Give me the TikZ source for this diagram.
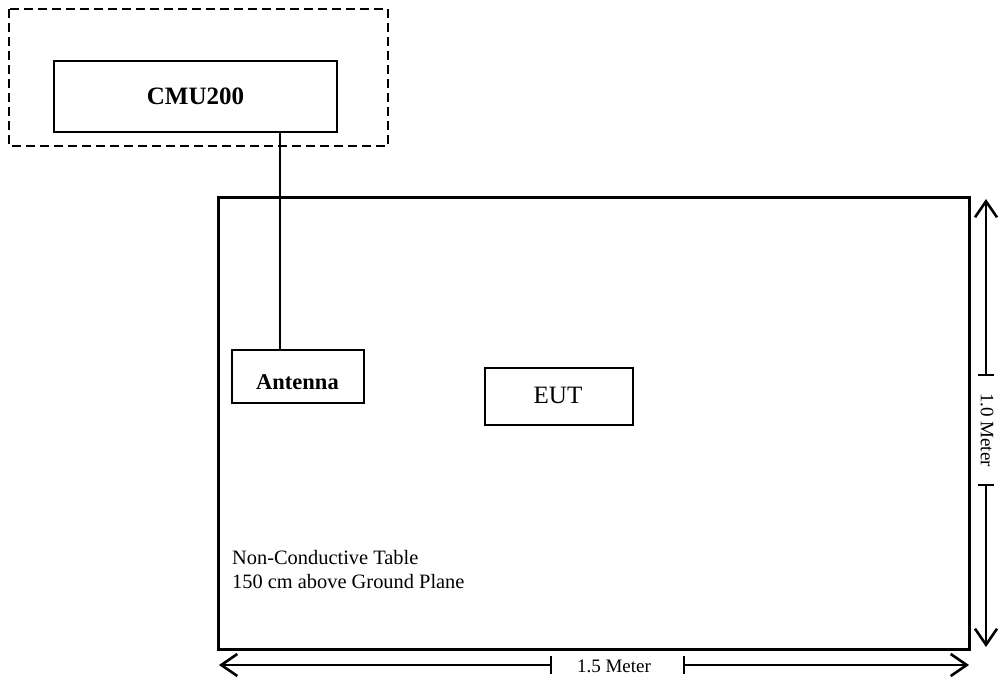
\documentclass[tikz,border=0pt]{standalone}
\usepackage{fontspec}
\setmainfont{Liberation Serif}
\usetikzlibrary{arrows.meta}
\begin{document}
\begin{tikzpicture}[x=1pt,y=-1pt,
  box/.style={draw,line width=1.5pt,inner sep=0pt},
  lbl/.style={anchor=base,inner sep=0pt},
  barb/.style={line width=1.2pt,-{Straight Barb[length=16pt,width=22pt,line width=2.6pt]}},
  tick/.style={line width=1.2pt}]
\useasboundingbox (0,0) rectangle (998,680);
% dashed enclosure
\draw[line width=1.5pt,dash pattern=on 9pt off 5pt] (9,9) rectangle (388,146);
% boxes
\node[box,minimum width=283pt,minimum height=71pt] (cmu) at (195.5,96.5) {};
\node[lbl,font=\fontsize{25}{28}\selectfont\bfseries] (cmut) at (195.5,104) {CMU200};
\node[draw,line width=3pt,minimum width=751pt,minimum height=452pt,inner sep=0pt] (table) at (593.5,423) {};
\node[box,minimum width=132pt,minimum height=53pt] (ant) at (298,376.5) {};
\node[lbl,font=\fontsize{22.5}{26}\selectfont\bfseries] (antt) at (297.5,389) {Antenna};
\node[box,minimum width=148pt,minimum height=57pt] (eut) at (559,396.5) {};
\node[lbl,font=\fontsize{25}{28}\selectfont] (eutt) at (558,403) {EUT};
% cable
\draw[line width=1.2pt] (cmu.south -| 280,0) -- (ant.north -| 280,0);
% table text
\node[anchor=base west,inner sep=0pt,font=\fontsize{20.4}{24}\selectfont] (t1) at (232,564) {Non-Conductive Table};
\node[anchor=base west,inner sep=0pt,font=\fontsize{20.4}{24}\selectfont] (t2) at (232,588) {150 cm above Ground Plane};
% horizontal dimension
\coordinate (hl) at (219,665);
\coordinate (hr) at (969,665);
\coordinate (hta) at (551,665);
\coordinate (htb) at (684,665);
\draw[barb] (hta) -- (hl);
\draw[barb] (htb) -- (hr);
\draw[tick] (551,656) -- (551,674);
\draw[tick] (684,656) -- (684,674);
\node[font=\fontsize{19}{22}\selectfont,inner sep=0pt] (hlab) at (614,666) {1.5 Meter};
% vertical dimension
\coordinate (vt) at (986,199);
\coordinate (vb) at (986,647);
\coordinate (vta) at (986,375);
\coordinate (vtb) at (986,485);
\draw[barb] (vta) -- (vt);
\draw[barb] (vtb) -- (vb);
\draw[tick] (978,375) -- (994,375);
\draw[tick] (978,485) -- (994,485);
\node[rotate=-90,font=\fontsize{19}{22}\selectfont,inner sep=0pt] (vlab) at (987,430) {1.0 Meter};
\end{tikzpicture}
\end{document}
